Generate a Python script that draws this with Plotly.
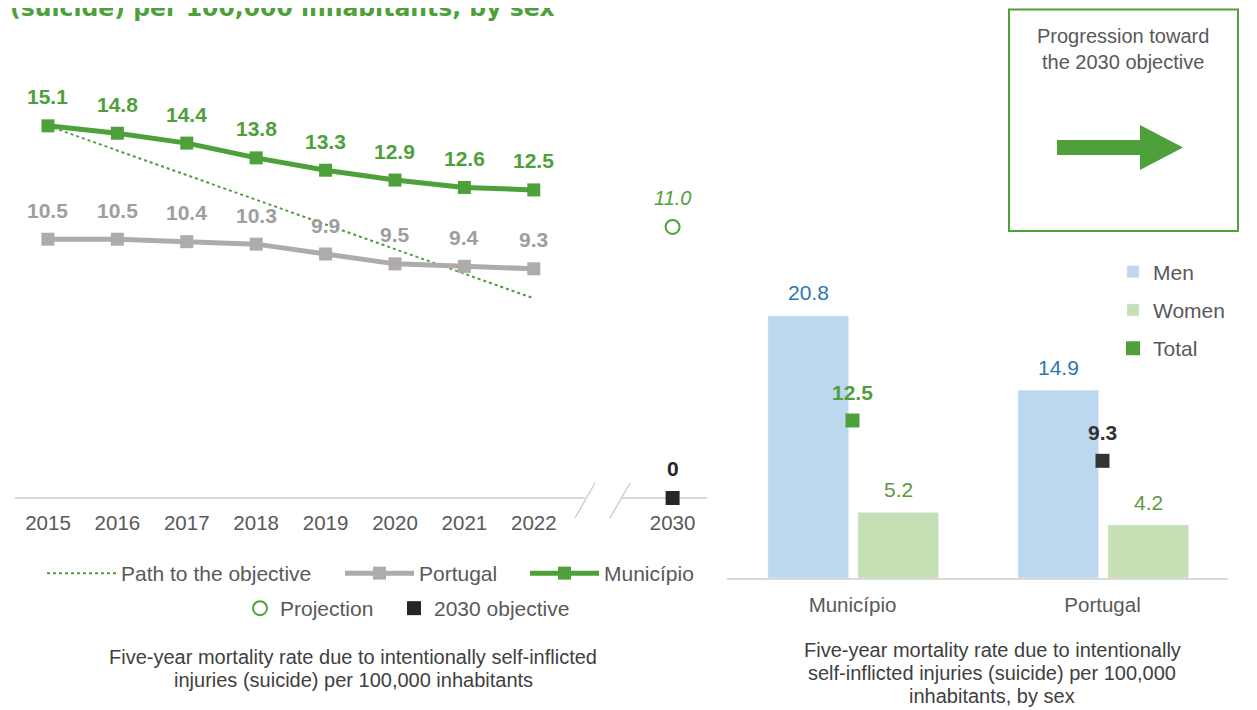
import plotly.graph_objects as go

W, H = 1257, 710
PAGE_OFF = 8  # default page margin around the figure
FONT = "Liberation Sans, Arial, sans-serif"
GREEN = "#4EA03A"
GRAY_LINE = "#AFABAB"
TXT = "#595959"

# ---------------- data: left chart ----------------
years = ["2015", "2016", "2017", "2018", "2019", "2020", "2021", "2022"]
municipio = [15.1, 14.8, 14.4, 13.8, 13.3, 12.9, 12.6, 12.5]
portugal = [10.5, 10.5, 10.4, 10.3, 9.9, 9.5, 9.4, 9.3]
path_years = ["2015", "2022"]
path_values = [15.1, 8.1]
target_year = "2030"
projection_value = [11.0]
objective_value = [0]

# ---------------- data: right chart ----------------
groups = ["Município", "Portugal"]
men = [20.8, 14.9]
women = [5.2, 4.2]
total = [12.5, 9.3]
total_colors = [GREEN, "#333333"]
total_label_colors = [GREEN, "#333333"]

# positions on the broken year axis (one empty slot for the break)
slot = {y: i for i, y in enumerate(years)}
slot[target_year] = len(years) + 1
tick_labels = years + [target_year]
tick_pos = [slot[t] for t in tick_labels]


def fx(x):
    return (x - PAGE_OFF) / W


def fy(y):
    return 1 - (y - PAGE_OFF) / H


fig = go.Figure()

# Path to the objective
fig.add_trace(go.Scatter(
    x=[slot[y] for y in path_years], y=path_values, mode="lines",
    line=dict(color=GREEN, width=2, dash="dot"),
    name="Path to the objective", legend="legend", legendwidth=214,
    xaxis="x", yaxis="y", hoverinfo="skip"))
# Portugal
fig.add_trace(go.Scatter(
    x=[slot[y] for y in years], y=portugal, mode="lines+markers",
    line=dict(color=GRAY_LINE, width=5),
    marker=dict(symbol="square", size=13, color=GRAY_LINE),
    name="Portugal", legend="legend", legendwidth=101,
    xaxis="x", yaxis="y", cliponaxis=False))
# Município
fig.add_trace(go.Scatter(
    x=[slot[y] for y in years], y=municipio, mode="lines+markers",
    line=dict(color=GREEN, width=5),
    marker=dict(symbol="square", size=13, color=GREEN),
    name="Município", legend="legend",
    xaxis="x", yaxis="y", cliponaxis=False))
# Projection
fig.add_trace(go.Scatter(
    x=[slot[target_year]], y=projection_value, mode="markers",
    marker=dict(symbol="circle-open", size=14, color=GREEN, line=dict(width=2)),
    name="Projection", legend="legend2", legendwidth=109,
    xaxis="x", yaxis="y", cliponaxis=False))
# 2030 objective
fig.add_trace(go.Scatter(
    x=[slot[target_year]], y=objective_value, mode="markers",
    marker=dict(symbol="square", size=14, color="#262626"),
    name="2030 objective", legend="legend2",
    xaxis="x", yaxis="y", cliponaxis=False))

# Right chart bars
BAR_W = 0.322
MEN_OFF = -0.338
WOMEN_OFF = 0.022
fig.add_trace(go.Bar(
    x=groups, y=men, width=BAR_W, offset=MEN_OFF, marker_color="#BDD7EE",
    name="Men", legend="legend3", legendgroup="men",
    xaxis="x2", yaxis="y2"))
fig.add_trace(go.Bar(
    x=groups, y=women, width=BAR_W, offset=WOMEN_OFF, marker_color="#C5E0B4",
    name="Women", legend="legend3", legendgroup="women",
    xaxis="x2", yaxis="y2"))
fig.add_trace(go.Scatter(
    x=groups, y=total, mode="markers",
    marker=dict(symbol="square", size=14, color=total_colors),
    name="Total", legend="legend3", legendgroup="total",
    xaxis="x2", yaxis="y2", cliponaxis=False))

annotations = []
# value labels, left chart
for y, v in zip(years, municipio):
    annotations.append(dict(x=slot[y], y=v, xref="x", yref="y", text=f"{v:.1f}",
                            showarrow=False, yshift=29,
                            font=dict(family=FONT, size=21, color=GREEN, weight="bold")))
for y, v in zip(years, portugal):
    annotations.append(dict(x=slot[y], y=v, xref="x", yref="y", text=f"{v:.1f}",
                            showarrow=False, yshift=29,
                            font=dict(family=FONT, size=21, color="#9E9E9E", weight="bold")))
annotations.append(dict(x=slot[target_year], y=projection_value[0], xref="x", yref="y",
                        text=f"{projection_value[0]:.1f}", showarrow=False, yshift=29,
                        font=dict(family=FONT, size=20, color=GREEN, style="italic")))
annotations.append(dict(x=slot[target_year], y=objective_value[0], xref="x", yref="y",
                        text=f"{objective_value[0]}", showarrow=False, yshift=30,
                        font=dict(family=FONT, size=21, color="#262626", weight="bold")))

# value labels, right chart
for i, g in enumerate(groups):
    annotations.append(dict(x=i + MEN_OFF + BAR_W / 2, y=men[i], xref="x2", yref="y2",
                            text=f"{men[i]:.1f}", showarrow=False, yshift=23,
                            font=dict(family=FONT, size=21, color="#2E75B6")))
    annotations.append(dict(x=i + WOMEN_OFF + BAR_W / 2, y=women[i], xref="x2", yref="y2",
                            text=f"{women[i]:.1f}", showarrow=False, yshift=23,
                            font=dict(family=FONT, size=21, color="#5B9A3C")))
    annotations.append(dict(x=i, y=total[i], xref="x2", yref="y2",
                            text=f"{total[i]:.1f}", showarrow=False, yshift=28,
                            font=dict(family=FONT, size=21, color=total_label_colors[i],
                                      weight="bold")))

# title fragment (top, clipped like the reference)
annotations.append(dict(x=fx(8), y=fy(8), xref="paper", yref="paper", xanchor="left",
                        yanchor="middle", showarrow=False,
                        text="(suicide) per 100,000 inhabitants, by sex",
                        font=dict(family="DejaVu Sans, sans-serif", size=23.5, color=GREEN,
                                  weight="bold")))
# captions
cap_l = ["Five-year mortality rate due to intentionally self-inflicted",
         "injuries (suicide) per 100,000 inhabitants"]
for k, t in enumerate(cap_l):
    annotations.append(dict(x=fx(353), y=fy(657 + 23 * k), xref="paper", yref="paper",
                            xanchor="center", yanchor="middle", showarrow=False, text=t,
                            font=dict(family=FONT, size=20, color="#404040")))
cap_r = ["Five-year mortality rate due to intentionally",
         "self-inflicted injuries (suicide) per 100,000",
         "inhabitants, by sex"]
for k, t in enumerate(cap_r):
    annotations.append(dict(x=fx(992), y=fy(650 + 23 * k), xref="paper", yref="paper",
                            xanchor="center", yanchor="middle", showarrow=False, text=t,
                            font=dict(family=FONT, size=20, color="#404040")))
# box text
for k, t in enumerate(["Progression toward", "the 2030 objective"]):
    annotations.append(dict(x=fx(1123), y=fy(36 + 26 * k), xref="paper", yref="paper",
                            xanchor="center", yanchor="middle", showarrow=False, text=t,
                            font=dict(family=FONT, size=20, color=TXT)))

shapes = []
AX = "#D9D9D9"
for (x0, y0, x1, y1, c, w) in [(15, 498, 585, 498, AX, 2), (622, 498, 707, 498, AX, 2),
                               (575, 518, 595, 483, "#D0D0D0", 1.5),
                               (610, 518, 630, 483, "#D0D0D0", 1.5)]:
    shapes.append(dict(type="line", xref="paper", yref="paper", x0=fx(x0), y0=fy(y0),
                       x1=fx(x1), y1=fy(y1), line=dict(color=c, width=w), layer="below"))
shapes.append(dict(type="rect", xref="paper", yref="paper", x0=fx(1009), y0=fy(9.5),
                   x1=fx(1238), y1=fy(231), line=dict(color=GREEN, width=2), layer="below"))
arrow = [(1057, 140), (1140, 140), (1140, 125), (1183, 147.5), (1140, 170), (1140, 155),
         (1057, 155)]
path = "M " + " L ".join(f"{fx(a):.5f},{fy(b):.5f}" for a, b in arrow) + " Z"
shapes.append(dict(type="path", xref="paper", yref="paper", path=path,
                   fillcolor=GREEN, line=dict(width=0), layer="below"))

legend_font = dict(family=FONT, size=21, color=TXT)
fig.update_layout(
    width=W, height=H, autosize=False,
    margin=dict(l=0, r=0, t=0, b=0),
    paper_bgcolor="white", plot_bgcolor="rgba(0,0,0,0)",
    showlegend=True, barmode="overlay",
    font=dict(family=FONT, color=TXT),
    xaxis=dict(domain=[fx(15), fx(705)], range=[-0.475, 9.467], tickvals=tick_pos,
               ticktext=tick_labels, showgrid=False, zeroline=False, showline=False,
               ticks="outside", ticklen=6, tickcolor="rgba(0,0,0,0)",
               tickfont=dict(family=FONT, size=20.5, color=TXT), fixedrange=True),
    yaxis=dict(domain=[fy(498), fy(80)], range=[0, 16.96], visible=False,
               fixedrange=True),
    xaxis2=dict(domain=[fx(727), fx(1228)], range=[-0.502, 1.502], type="category",
                showgrid=False, zeroline=False, showline=True, linecolor=AX, linewidth=2,
                ticks="outside", ticklen=7, tickcolor="rgba(0,0,0,0)",
                tickfont=dict(family=FONT, size=20.5, color=TXT), anchor="y2",
                fixedrange=True),
    yaxis2=dict(domain=[fy(578), fy(250)], range=[0, 26.03], visible=False, anchor="x2",
                fixedrange=True),
    legend=dict(orientation="h", x=fx(42), xanchor="left", y=fy(553), yanchor="top",
                itemwidth=69, font=legend_font, bgcolor="rgba(0,0,0,0)",
                traceorder="normal"),
    legend2=dict(orientation="h", x=fx(240), xanchor="left", y=fy(588), yanchor="top",
                 itemwidth=30, font=legend_font, bgcolor="rgba(0,0,0,0)",
                 traceorder="normal"),
    legend3=dict(orientation="v", x=fx(1113), xanchor="left", y=fy(251.5), yanchor="top",
                 itemwidth=30, font=legend_font, bgcolor="rgba(0,0,0,0)",
                 traceorder="grouped", tracegroupgap=8),
    annotations=annotations, shapes=shapes,
)

fig.write_html("out.html")
